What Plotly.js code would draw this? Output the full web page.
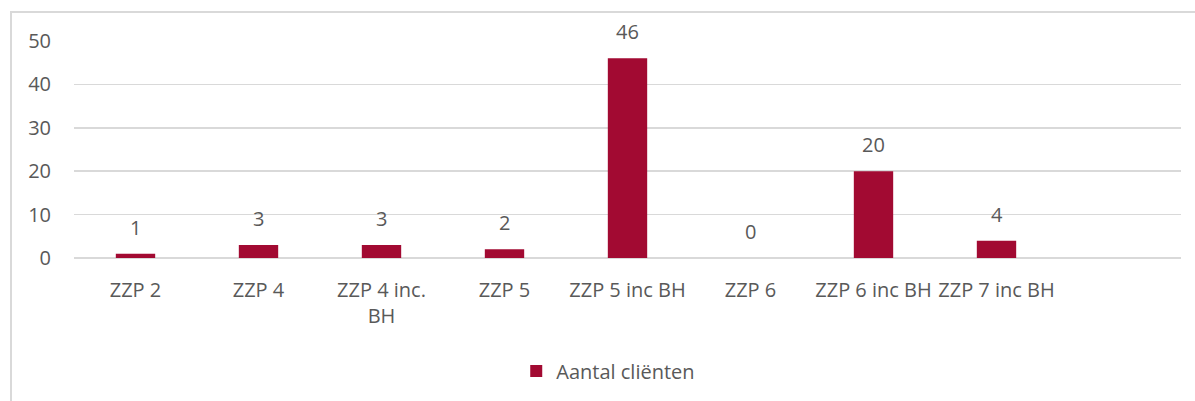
<!DOCTYPE html>
<html>
<head>
<meta charset="utf-8">
<script src="https://cdn.plot.ly/plotly-3.0.1.min.js"></script>
<style>
  html, body { margin: 0; padding: 0; background: #fff; }
  #chart { width: 1195px; height: 401px; position: absolute; left: 0; top: 0; }
  #frame { position: absolute; left: 10px; top: 11px; width: 1190px; height: 400px;
           border-left: 2px solid #D9D9D9; border-top: 2px solid #D9D9D9; pointer-events: none; }
</style>
</head>
<body>
<div id="frame"></div>
<div id="chart"></div>
<script>
const categories = ["ZZP 2", "ZZP 4", "ZZP 4 inc. BH", "ZZP 5", "ZZP 5 inc BH", "ZZP 6", "ZZP 6 inc BH", "ZZP 7 inc BH", ""];
const tickLabels = ["ZZP 2", "ZZP 4", "ZZP 4 inc.<br>BH", "ZZP 5", "ZZP 5 inc BH", "ZZP 6", "ZZP 6 inc BH", "ZZP 7 inc BH", ""];
const values = [1, 3, 3, 2, 46, 0, 20, 4, null];
const seriesName = "Aantal cliënten";
const yTicks = [0, 10, 20, 30, 40, 50];

const textColor = "#595959";
const barColor = "#A20A32";
const fontFam = "'Open Sans', sans-serif";
const fs = 20;

const annotations = categories.map((c, i) => values[i] === null ? null : ({
  x: c, y: values[i], xref: "x", yref: "y", text: String(values[i]),
  showarrow: false, yanchor: "bottom", yshift: 11,
  font: { family: fontFam, size: fs, color: textColor }
})).filter(a => a);

Plotly.newPlot("chart", [{
  type: "bar",
  x: categories,
  y: values,
  name: seriesName,
  width: 0.32,
  marker: { color: barColor },
  showlegend: true
}], {
  width: 1195, height: 401,
  margin: { l: 74, r: 14, t: 41, b: 143, autoexpand: false },
  paper_bgcolor: "rgba(0,0,0,0)",
  plot_bgcolor: "rgba(0,0,0,0)",
  font: { family: fontFam, size: fs, color: textColor },
  xaxis: {
    type: "category",
    tickvals: categories, ticktext: tickLabels,
    range: [-0.5, 8.5],
    showgrid: false, zeroline: false, showline: false,
    ticks: "", ticklen: 0, ticklabelstandoff: 18,
    tickfont: { family: fontFam, size: fs, color: textColor },
    automargin: false,
    fixedrange: true
  },
  yaxis: {
    range: [0, 50],
    tickvals: yTicks,
    showgrid: true, gridcolor: "#D9D9D9", gridwidth: 1.5,
    zeroline: true, zerolinecolor: "#D9D9D9", zerolinewidth: 1.5,
    showline: false, ticks: "", ticklabelstandoff: 22,
    tickfont: { family: fontFam, size: fs, color: textColor },
    automargin: false,
    fixedrange: true
  },
  legend: {
    orientation: "h", x: 0.4826, xanchor: "center",
    yref: "container", y: 0.075, yanchor: "middle",
    font: { family: fontFam, size: fs, color: textColor }
  },
  annotations: annotations,
  bargap: 0.68
}, { displayModeBar: false, staticPlot: true });
</script>
</body>
</html>
